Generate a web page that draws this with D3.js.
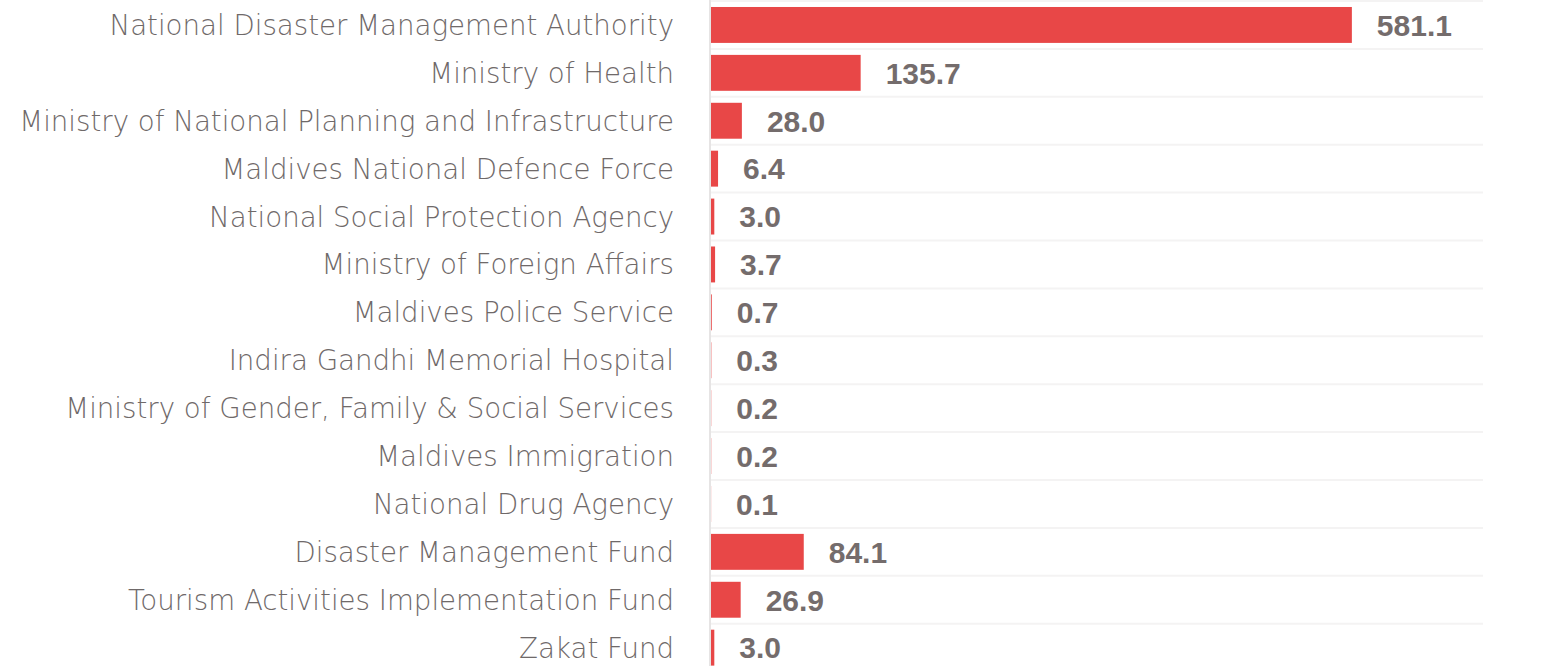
<!DOCTYPE html>
<html>
<head>
<meta charset="utf-8">
<script src="https://cdn.jsdelivr.net/npm/d3@7"></script>
<style>
  body { margin: 0; background: #fff; }
  svg { display: block; }
</style>
</head>
<body>
<svg id="chart" width="1545" height="666"></svg>
<script>
var agencies = [
  "National Disaster Management Authority",
  "Ministry of Health",
  "Ministry of National Planning and Infrastructure",
  "Maldives National Defence Force",
  "National Social Protection Agency",
  "Ministry of Foreign Affairs",
  "Maldives Police Service",
  "Indira Gandhi Memorial Hospital",
  "Ministry of Gender, Family & Social Services",
  "Maldives Immigration",
  "National Drug Agency",
  "Disaster Management Fund",
  "Tourism Activities Implementation Fund",
  "Zakat Fund"
];
var amounts = [581.1, 135.7, 28.0, 6.4, 3.0, 3.7, 0.7, 0.3, 0.2, 0.2, 0.1, 84.1, 26.9, 3.0];

var w = 1545, h = 666;
var svg = d3.select("#chart");

var x = d3.scaleLinear().domain([0, 700]).range([711, 1483]);
var y = d3.scaleBand().domain(agencies).range([1, 1 + 14 * 47.9])
  .paddingInner(0.25).paddingOuter(0.125);

// row lines
svg.append("g")
  .selectAll("line")
  .data(agencies)
  .join("line")
  .attr("x1", x(0))
  .attr("x2", x(700))
  .attr("y1", d => y(d) - y.step() * 0.125)
  .attr("y2", d => y(d) - y.step() * 0.125)
  .attr("stroke", "#f4f3f3")
  .attr("stroke-width", 2);

// left axis line
svg.append("line")
  .attr("x1", 710).attr("x2", 710)
  .attr("y1", 0).attr("y2", h)
  .attr("stroke", "#e6e4e4")
  .attr("stroke-width", 2);

// bars
svg.append("g")
  .selectAll("rect")
  .data(amounts)
  .join("rect")
  .attr("x", x(0))
  .attr("y", (d, i) => y(agencies[i]))
  .attr("width", d => x(d) - x(0))
  .attr("height", y.bandwidth())
  .attr("fill", "#e84747");

// category labels
var labels = svg.append("g")
  .selectAll("text")
  .data(agencies)
  .join("text")
  .attr("x", 674)
  .attr("y", d => y(d) + y.bandwidth() / 2)
  .attr("dy", "0.36em")
  .attr("text-anchor", "end")
  .attr("fill", "#6f6969")
  .attr("font-family", "'DejaVu Sans', sans-serif")
  .attr("font-weight", 300)
  .attr("font-size", "26px")
  .text(d => d);

// fit the longest label to the width seen in the chart
var longest = d3.max(labels.nodes(), n => n.getComputedTextLength());
labels.attr("font-size", (26 * 655 / longest).toFixed(2) + "px");

// value labels
svg.append("g")
  .selectAll("text")
  .data(amounts)
  .join("text")
  .attr("x", d => x(d) + 25)
  .attr("y", (d, i) => y(agencies[i]) + y.bandwidth() / 2)
  .attr("dy", "0.36em")
  .attr("fill", "#746c6c")
  .attr("font-family", "'Liberation Sans', Arial, sans-serif")
  .attr("font-weight", "bold")
  .attr("font-size", "30px")
  .text(d => d.toFixed(1));
</script>
</body>
</html>
